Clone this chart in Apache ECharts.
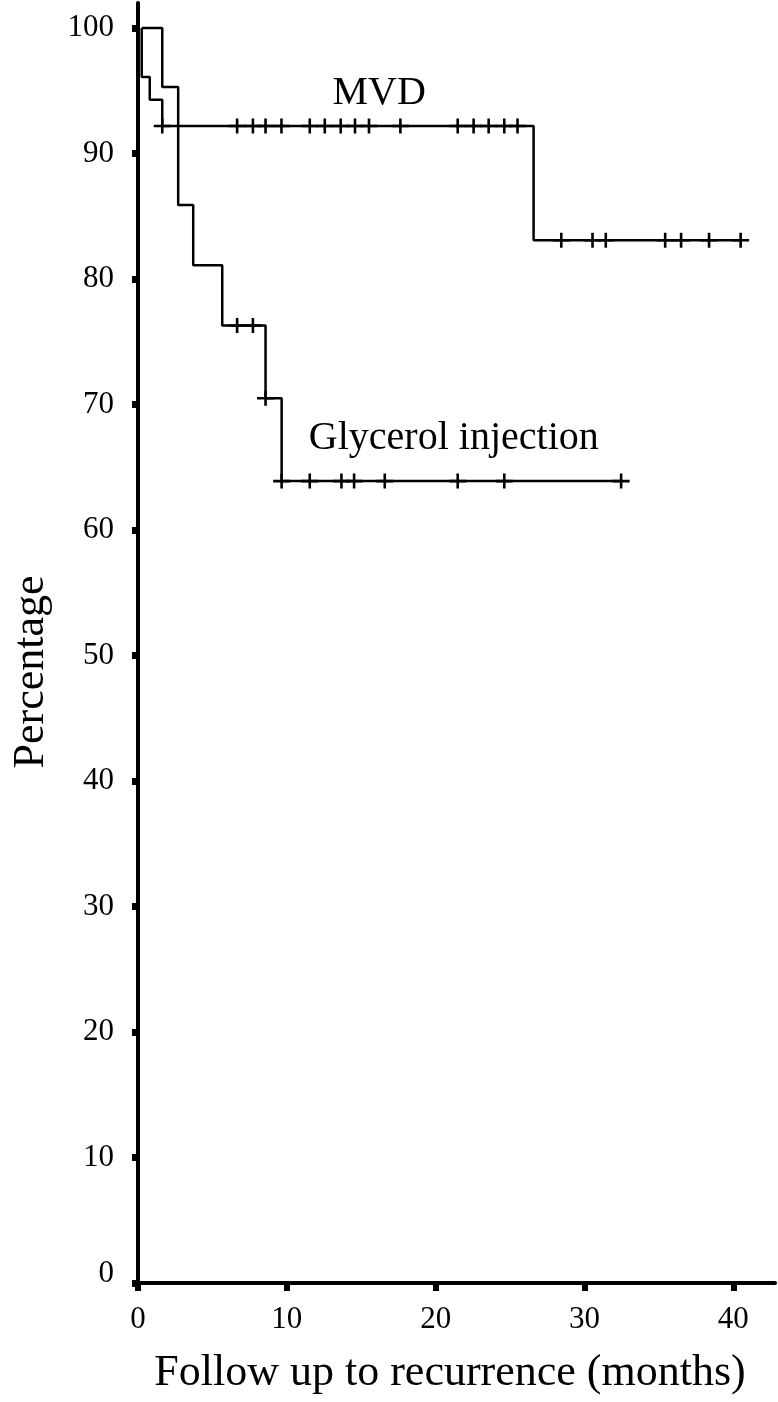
<!DOCTYPE html>
<html>
<head>
<meta charset="utf-8">
<script src="https://cdn.jsdelivr.net/npm/echarts@6/dist/echarts.min.js"></script>
<style>
html,body{margin:0;padding:0;background:#fff;}
#chart{width:778px;height:1402px;}
</style>
</head>
<body>
<div id="chart"></div>
<script>
// ---- data ----
// MVD Kaplan-Meier steps: time (months) at which the survival becomes value (%)
const mvdTimes = [0.25, 0.25, 0.79, 1.63, 26.58, 40.49];
const mvdSurv  = [100, 96.1, 94.3, 92.2, 83.1, 83.1];
const mvdCensorTimes = [1.63, 6.66, 7.72, 8.57, 9.64, 11.54, 12.55, 13.62, 14.58, 15.52, 17.63,
                        21.48, 22.55, 23.56, 24.61, 25.50,
                        28.44, 30.54, 31.43, 35.42, 36.49, 38.37, 40.49];

// Glycerol injection Kaplan-Meier steps
const glyTimes = [0.25, 1.63, 2.70, 3.71, 5.66, 8.57, 9.65, 32.46];
const glySurv  = [100, 95.3, 85.9, 81.1, 76.3, 70.5, 63.9, 63.9];
const glyCensorTimes = [6.66, 7.72, 8.57, 9.65, 11.54, 13.67, 14.52, 16.58, 21.48, 24.61, 32.46];

// axis ticks
const xTicks = [0, 10, 20, 30, 40];
const yTicks = [0, 10, 20, 30, 40, 50, 60, 70, 80, 90, 100];

// annotations: text and anchor in data units
const annoText = ['MVD', 'Glycerol injection'];
const annoAt   = [[16.2, 94.8], [11.48, 67.3]];
const annoAlign = ['center', 'left'];

// ---- helpers ----
function stepData(times, vals){ return times.map((t,i)=>[t, vals[i]]); }
function survAt(times, vals, t){
  let v = vals[0];
  for (let i=0;i<times.length;i++){ if (times[i] <= t + 1e-9) v = vals[i]; }
  return v;
}
function censorData(ct, times, vals){ return ct.map(t=>[t, survAt(times, vals, t)]); }

// "+" censor mark: 17 wide x 15 tall, bars 2.6 px thick
const plus = 'path://M7.2,0 h2.6 v6.2 h7.2 v2.6 h-7.2 v6.2 h-2.6 v-6.2 h-7.2 v-2.6 h7.2 z';
const FONT = '"Liberation Serif", "Times New Roman", serif';

const chart = echarts.init(document.getElementById('chart'), null, {renderer:'canvas'});
const option = {
  animation: false,
  backgroundColor: '#fff',
  grid: {left: 138, right: 3, top: 3, bottom: 119, containLabel: false},
  xAxis: {
    type: 'value', min: 0, max: 42.8,
    name: 'Follow up to recurrence (months)', nameLocation: 'middle', nameGap: 68,
    nameTextStyle: {fontFamily: FONT, fontSize: 44, color: '#000', padding: [0, 13, 0, 0]},
    axisLine: {show: true, onZero: false, lineStyle: {color: '#000', width: 4}},
    axisTick: {show: true, customValues: xTicks, length: 8, lineStyle: {color: '#000', width: 6}},
    axisLabel: {customValues: xTicks, fontFamily: FONT, fontSize: 31, color: '#000', margin: 21},
    splitLine: {show: false}
  },
  yAxis: {
    type: 'value', min: 0, max: 102,
    name: 'Percentage', nameLocation: 'middle', nameGap: 85, nameRotate: 90,
    nameTextStyle: {fontFamily: FONT, fontSize: 44, color: '#000', padding: [0, 58, 0, 0]},
    axisLine: {show: true, onZero: false, lineStyle: {color: '#000', width: 4}},
    axisTick: {show: true, customValues: yTicks, length: 6, lineStyle: {color: '#000', width: 7}},
    axisLabel: {
      customValues: yTicks, fontFamily: FONT, fontSize: 31, color: '#000', margin: 24,
      formatter: v => v === 0 ? '{z|0}' : String(v),
      rich: {z: {fontFamily: FONT, fontSize: 31, color: '#000', padding: [0, 0, 18, 0]}}
    },
    splitLine: {show: false}
  },
  series: [
    {name: 'MVD', type: 'line', step: 'end', data: stepData(mvdTimes, mvdSurv),
     showSymbol: false, lineStyle: {color: '#000', width: 2.5}, silent: true},
    {name: 'Glycerol injection', type: 'line', step: 'end', data: stepData(glyTimes, glySurv),
     showSymbol: false, lineStyle: {color: '#000', width: 2.5}, silent: true},
    {name: 'MVD censored', type: 'scatter', data: censorData(mvdCensorTimes, mvdTimes, mvdSurv),
     symbol: plus, symbolSize: [17, 15], itemStyle: {color: '#000', opacity: 1}, silent: true},
    {name: 'Glycerol censored', type: 'scatter', data: censorData(glyCensorTimes, glyTimes, glySurv),
     symbol: plus, symbolSize: [17, 15], itemStyle: {color: '#000', opacity: 1}, silent: true},
    {name: 'labels', type: 'scatter', symbolSize: 0, silent: true,
     itemStyle: {color: '#000', opacity: 1},
     data: annoText.map((t,i)=>({name: t, value: annoAt[i],
       label: {show: true, position: [0,0], formatter: '{b}', align: annoAlign[i], verticalAlign: 'middle',
               fontFamily: FONT, fontSize: 40, color: '#000', opacity: 1}}))}
  ]
};
chart.setOption(option);
</script>
</body>
</html>
